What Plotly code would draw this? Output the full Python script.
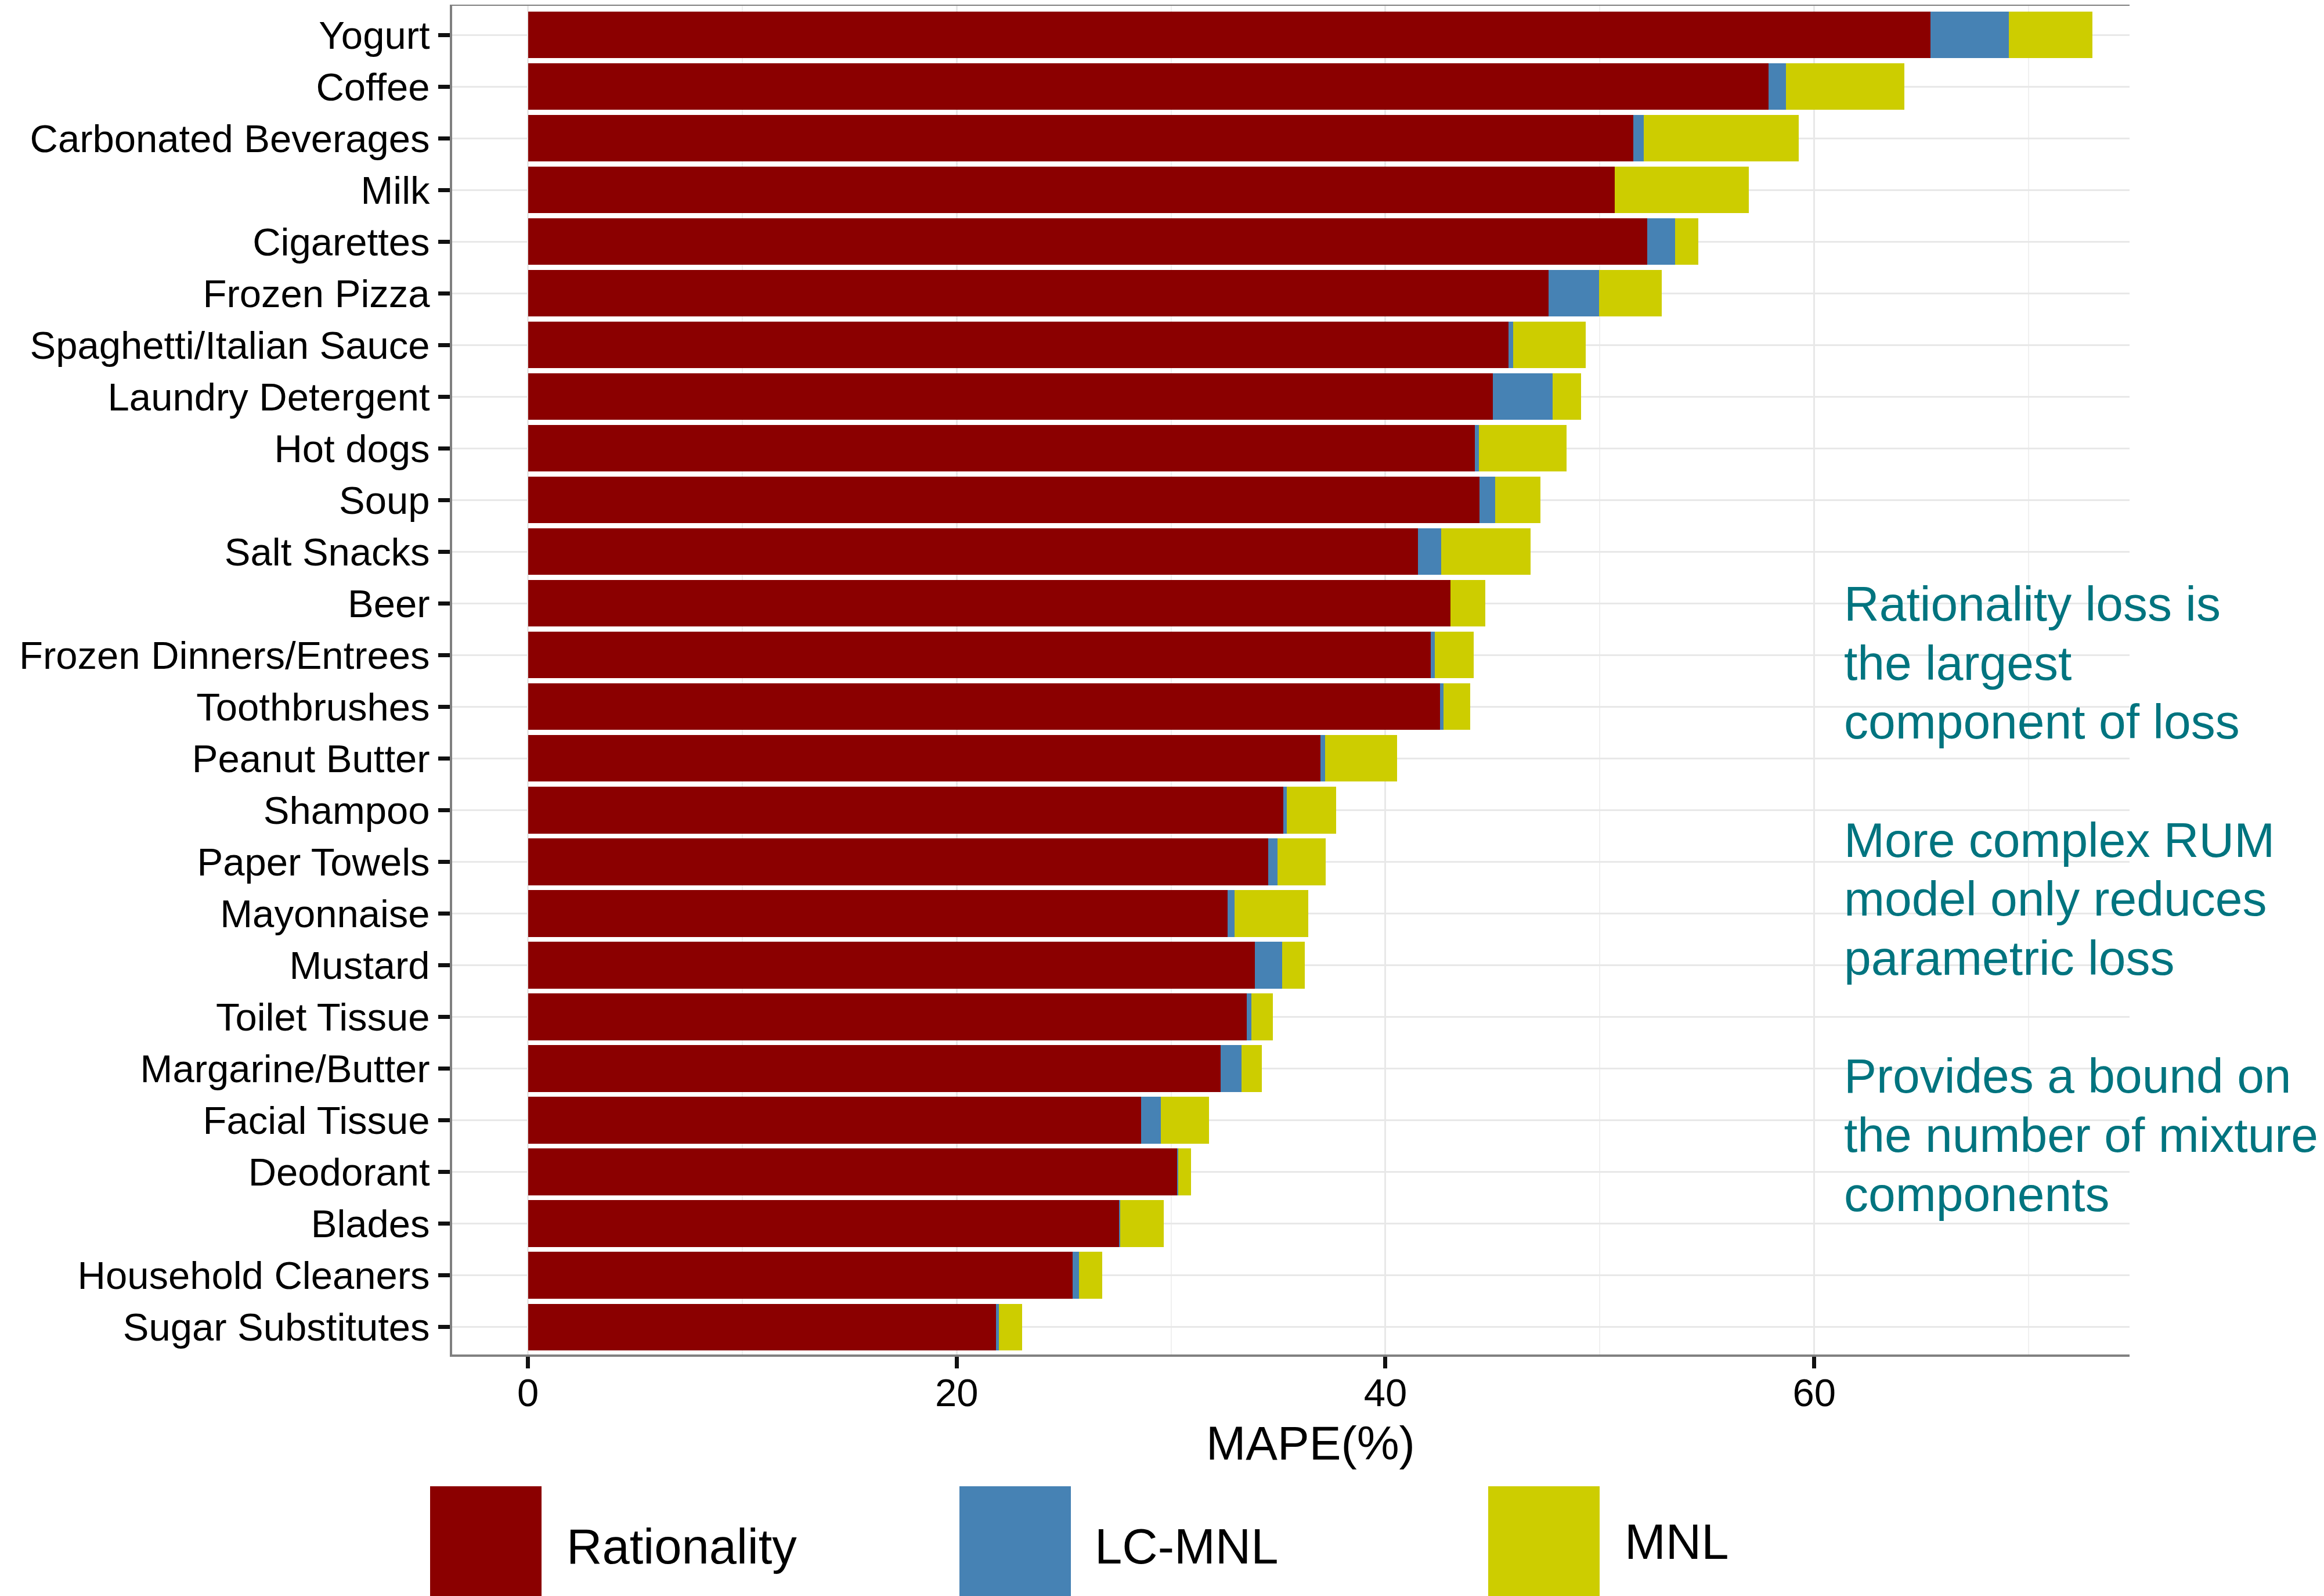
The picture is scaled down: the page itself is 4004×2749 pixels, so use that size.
import plotly.graph_objects as go

# ---------------- data ----------------
categories = [
    "Yogurt", "Coffee", "Carbonated Beverages", "Milk", "Cigarettes",
    "Frozen Pizza", "Spaghetti/Italian Sauce", "Laundry Detergent", "Hot dogs",
    "Soup", "Salt Snacks", "Beer", "Frozen Dinners/Entrees", "Toothbrushes",
    "Peanut Butter", "Shampoo", "Paper Towels", "Mayonnaise", "Mustard",
    "Toilet Tissue", "Margarine/Butter", "Facial Tissue", "Deodorant",
    "Blades", "Household Cleaners", "Sugar Substitutes",
]
rationality = [65.42, 57.86, 51.56, 50.70, 52.21, 47.60, 45.75, 45.02, 44.18,
               44.40, 41.53, 43.04, 42.10, 42.54, 36.96, 35.23, 34.52, 32.64,
               33.90, 33.54, 32.32, 28.61, 30.27, 27.59, 25.42, 21.84]
lc_mnl = [3.66, 0.83, 0.50, 0.00, 1.30, 2.36, 0.20, 2.77, 0.19,
          0.73, 1.08, 0.00, 0.20, 0.18, 0.22, 0.18, 0.45, 0.33,
          1.27, 0.22, 0.97, 0.92, 0.06, 0.03, 0.29, 0.13]
mnl = [3.91, 5.52, 7.23, 6.26, 1.09, 2.92, 3.39, 1.33, 4.07,
       2.09, 4.17, 1.63, 1.81, 1.24, 3.36, 2.28, 2.25, 3.44,
       1.07, 0.99, 0.95, 2.23, 0.59, 2.05, 1.09, 1.09]
series_names = ["Rationality", "LC-MNL", "MNL"]
series_colors = ["#8B0000", "#4682B4", "#CDCD00"]
x_tick_values = [0, 20, 40, 60]
x_title = "MAPE(%)"
note_lines = [
    "Rationality loss is", "the largest", "component of loss", "",
    "More complex RUM", "model only reduces", "parametric loss", "",
    "Provides a bound on", "the number of mixture", "components",
]

# ---------------- layout geometry (page pixels) ----------------
W, H = 4004, 2749
OFF = 8                   # default body margin of the html page
PX0, PX1 = 779, 3669      # plot area left/right
PY0, PY1 = 10, 2333       # plot area top/bottom
FONT = "Liberation Sans, Arial, Helvetica, sans-serif"


def fx(px):
    return (px - PX0) / (PX1 - PX0)


def fy(py):
    return (PY1 - py) / (PY1 - PY0)


fig = go.Figure()
for name, vals, col in zip(series_names, [rationality, lc_mnl, mnl], series_colors):
    fig.add_trace(go.Bar(
        y=categories, x=vals, name=name, orientation="h",
        marker=dict(color=col, line=dict(width=0)),
        showlegend=False,
    ))

fig.update_layout(
    width=W - OFF, height=H - OFF, autosize=False,
    barmode="stack", bargap=0.1,
    paper_bgcolor="white", plot_bgcolor="white",
    margin=dict(l=PX0 - OFF, r=W - PX1, t=PY0 - OFF, b=H - PY1, pad=0),
    font=dict(family=FONT, color="black"),
    xaxis=dict(
        range=[-3.533, 74.71], tickvals=x_tick_values,
        ticktext=[str(v) for v in x_tick_values],
        showgrid=True, gridcolor="#E8E8E8", gridwidth=3,
        minor=dict(tick0=0, dtick=10, showgrid=True, gridcolor="#F0F0F0", gridwidth=1.5),
        zeroline=False,
        showline=True, linecolor="#808080", linewidth=4, mirror=True,
        ticks="outside", ticklen=20, tickwidth=7, tickcolor="#111111",
        tickfont=dict(size=67, color="black", family=FONT),
        ticklabelstandoff=-15,
        automargin=False,
    ),
    yaxis=dict(
        categoryorder="array", categoryarray=categories,
        range=[25.533, -0.565],
        showgrid=True, gridcolor="#E8E8E8", gridwidth=3,
        zeroline=False,
        showline=True, linecolor="#808080", linewidth=4, mirror=False,
        ticks="outside", ticklen=20, tickwidth=7, tickcolor="#111111",
        tickfont=dict(size=67, color="black", family=FONT),
        ticklabelstandoff=1,
        automargin=False,
    ),
)

annotations = []
shapes = []

# x-axis title
annotations.append(dict(
    text=x_title, xref="paper", yref="paper",
    x=fx(2257.5), y=fy(2514 - 0.3465 * 82), xanchor="center", yanchor="middle",
    showarrow=False, font=dict(size=82, color="black", family=FONT),
))

# legend (drawn manually to match the large keys)
key_left = [741, 1653, 2564]
text_left = [974, 1884, 2797]
text_base = [2693, 2693, 2685]
for i, (name, col) in enumerate(zip(series_names, series_colors)):
    shapes.append(dict(
        type="rect", xref="paper", yref="paper",
        x0=fx(key_left[i]), x1=fx(key_left[i] + 192),
        y0=fy(2560), y1=fy(2770),
        fillcolor=col, line=dict(width=0), layer="above",
    ))
    annotations.append(dict(
        text=name, xref="paper", yref="paper",
        x=fx(text_left[i]), y=fy(text_base[i] - 0.3465 * 85),
        xanchor="left", yanchor="middle", showarrow=False,
        font=dict(size=85, color="black", family=FONT),
    ))

# side notes
for k, line in enumerate(note_lines):
    if not line:
        continue
    base = 1069 + k * 101.7
    annotations.append(dict(
        text=line, xref="paper", yref="paper",
        x=fx(3175), y=fy(base - 0.3465 * 84),
        xanchor="left", yanchor="middle", showarrow=False,
        font=dict(size=84, color="#00747F", family=FONT),
    ))

fig.update_layout(annotations=annotations, shapes=shapes)
fig.write_html("out.html")
